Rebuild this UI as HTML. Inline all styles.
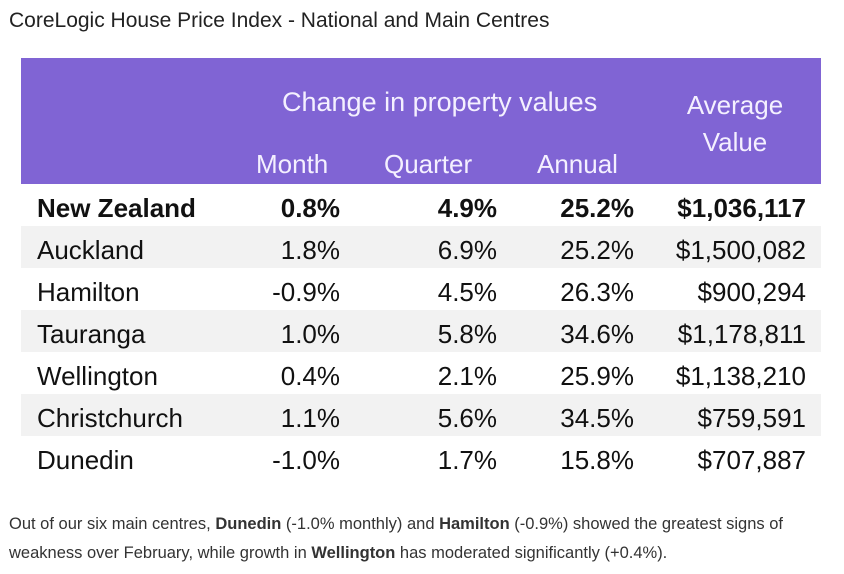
<!DOCTYPE html>
<html><head><meta charset="utf-8"><style>
body{margin:0;width:844px;height:574px;background:#fff;font-family:"Liberation Sans",sans-serif;position:relative;overflow:hidden}
.a{position:absolute;white-space:nowrap}
.t{font-size:26px;color:#111;line-height:42px;top:3px}
.r{text-align:right}
.h{color:#f4f0ff;font-size:26px}
.row{position:absolute;left:21px;width:800px;height:42px}
</style></head><body>
<div class="a" style="left:9px;top:9px;font-size:21px;color:#222">CoreLogic House Price Index - National and Main Centres</div>
<div class="a" style="left:21px;top:58px;width:800px;height:126px;background:#8064d4"></div>
<div class="a h" style="left:282px;top:87px;font-size:27px">Change in property values</div>
<div class="a h" style="left:655px;top:87px;width:160px;text-align:center;line-height:37px">Average<br>Value</div>
<div class="a h" style="left:256px;top:149px">Month</div>
<div class="a h" style="left:384px;top:149px">Quarter</div>
<div class="a h" style="left:537px;top:149px">Annual</div>
<div id="rows"></div>
<div class="a" style="left:9px;top:510px;font-size:16.5px;color:#333;line-height:29px">Out of our six main centres, <b>Dunedin</b> (-1.0% monthly) and <b>Hamilton</b> (-0.9%) showed the greatest signs of<br>weakness over February, while growth in <b>Wellington</b> has moderated significantly (+0.4%).</div>
<script>
const names=["New Zealand","Auckland","Hamilton","Tauranga","Wellington","Christchurch","Dunedin"];
const month=["0.8%","1.8%","-0.9%","1.0%","0.4%","1.1%","-1.0%"];
const quarter=["4.9%","6.9%","4.5%","5.8%","2.1%","5.6%","1.7%"];
const annual=["25.2%","25.2%","26.3%","34.6%","25.9%","34.5%","15.8%"];
const values=["$1,036,117","$1,500,082","$900,294","$1,178,811","$1,138,210","$759,591","$707,887"];
const c=document.getElementById('rows');
names.forEach((n,i)=>{
 const r=document.createElement('div');r.className='row';
 
 
 r.style.top=(184+i*42)+'px';
 if(i%2==1)r.style.background='#f2f2f2';
 const cells=[[n,16,null],[month[i],null,481],[quarter[i],null,324],[annual[i],null,187],[values[i],null,15]];
 cells.forEach((cl,j)=>{
  const d=document.createElement('div');d.className='a t'+(j?' r':'');
  
  
  d.textContent=cl[0];
  if(cl[1]!==null)d.style.left=cl[1]+'px';else d.style.right=cl[2]+'px';
  if(i==0)d.style.fontWeight='bold';
  r.appendChild(d);
 });
 c.appendChild(r);
});
</script>
</body></html>
